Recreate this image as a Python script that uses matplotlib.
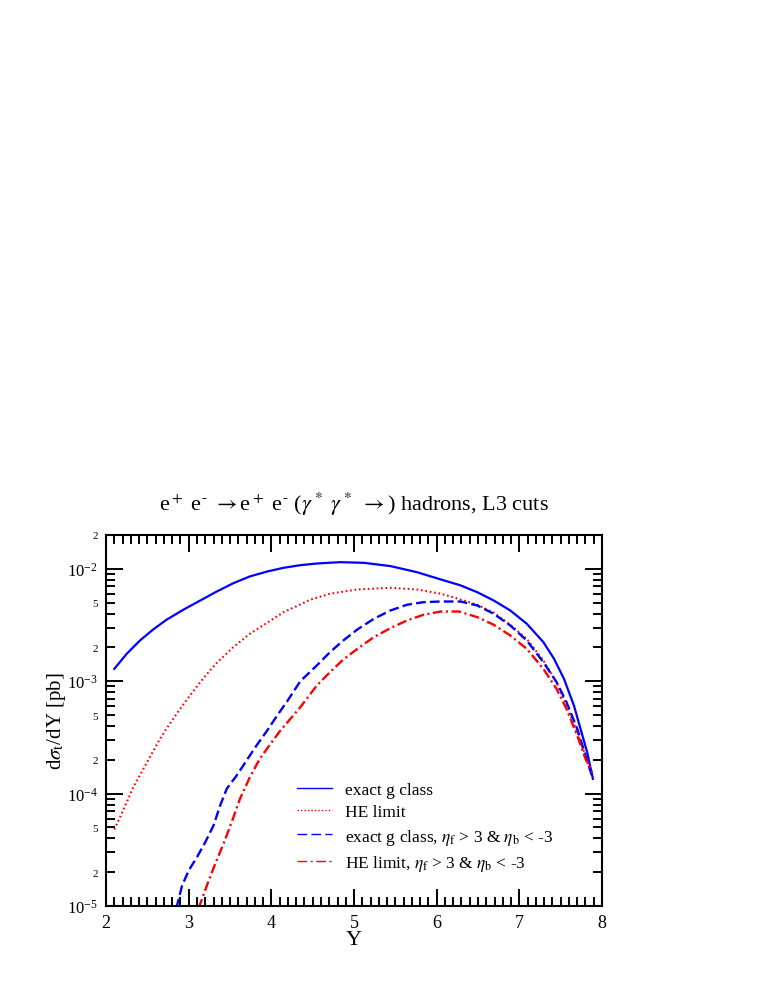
import matplotlib
matplotlib.use("Agg")
import numpy as np
import matplotlib.pyplot as plt
from matplotlib.ticker import LogLocator, FuncFormatter, MultipleLocator, LogFormatterMathtext
from matplotlib.lines import Line2D

plt.rcParams['font.family'] = ['Liberation Serif', 'DejaVu Serif']
plt.rcParams['mathtext.fontset'] = 'stix'
plt.rcParams['lines.scale_dashes'] = False

# values, given as log10(dsigma/dY [pb])
# exact g class (solid blue)
y_exact = [2.10, 2.25, 2.41, 2.57, 2.73, 2.94, 3.14, 3.34, 3.54, 3.74, 3.95, 4.15, 4.35,
           4.55, 4.83, 5.12, 5.44, 5.76, 6.05, 6.29, 6.49, 6.69, 6.89, 7.09, 7.29, 7.42,
           7.54, 7.66, 7.74, 7.82, 7.89]
lg_exact = [-2.890, -2.756, -2.638, -2.540, -2.454, -2.362, -2.282, -2.202, -2.128, -2.068,
            -2.024, -1.991, -1.968, -1.953, -1.941, -1.947, -1.976, -2.030, -2.095, -2.148,
            -2.208, -2.282, -2.371, -2.489, -2.652, -2.801, -2.979, -3.216, -3.423, -3.631,
            -3.868]

# HE limit (dotted red)
y_he = [2.10, 2.17, 2.25, 2.33, 2.43, 2.53, 2.63, 2.73, 2.84, 2.94, 3.04, 3.14, 3.24, 3.34,
        3.54, 3.74, 3.95, 4.15, 4.35, 4.47, 4.71, 5.04, 5.44, 5.76, 6.05, 6.29, 6.49, 6.69,
        6.89, 7.09, 7.29, 7.45, 7.57, 7.70, 7.80, 7.87]
lg_he = [-4.319, -4.209, -4.076, -3.942, -3.809, -3.676, -3.542, -3.423, -3.305, -3.201,
         -3.103, -3.008, -2.919, -2.836, -2.697, -2.578, -2.480, -2.385, -2.318, -2.275,
         -2.222, -2.184, -2.169, -2.184, -2.222, -2.273, -2.320, -2.391, -2.498, -2.623,
         -2.816, -3.008, -3.216, -3.453, -3.661, -3.809]

# exact g class, eta_f > 3 & eta_b < -3 (dashed blue)
y_exact_cut = [2.85, 2.92, 3.00, 3.10, 3.20, 3.30, 3.38, 3.46, 3.58, 3.70, 3.82, 3.95, 4.07,
               4.19, 4.35, 4.55, 4.71, 4.87, 5.04, 5.24, 5.44, 5.64, 5.84, 6.05, 6.29, 6.49,
               6.69, 6.89, 7.09, 7.29, 7.45, 7.57, 7.70, 7.80, 7.89]
lg_exact_cut = [-5.02, -4.817, -4.684, -4.565, -4.432, -4.284, -4.106, -3.957, -3.839, -3.705,
                -3.572, -3.438, -3.305, -3.180, -3.000, -2.860, -2.741, -2.638, -2.540, -2.445,
                -2.371, -2.320, -2.297, -2.291, -2.291, -2.326, -2.400, -2.504, -2.638, -2.830,
                -3.008, -3.186, -3.423, -3.661, -3.868]

# HE limit, eta_f > 3 & eta_b < -3 (dash-dot red)
y_he_cut = [3.12, 3.22, 3.32, 3.42, 3.52, 3.62, 3.74, 3.86, 3.99, 4.11, 4.23, 4.35, 4.55,
            4.71, 4.87, 5.04, 5.24, 5.44, 5.64, 5.84, 6.05, 6.27, 6.49, 6.69, 6.89, 7.09,
            7.29, 7.45, 7.57, 7.70, 7.80, 7.88]
lg_he_cut = [-5.02, -4.817, -4.625, -4.447, -4.254, -4.046, -3.853, -3.690, -3.557, -3.438,
             -3.335, -3.231, -3.038, -2.919, -2.807, -2.712, -2.608, -2.528, -2.460, -2.409,
             -2.380, -2.380, -2.430, -2.498, -2.593, -2.712, -2.890, -3.068, -3.246, -3.483,
             -3.690, -3.809]

labels = ['exact g class',
          'HE limit',
          r'exact g class, $\eta_{\rm f}$ > 3 & $\eta_{\rm b}$ < -3',
          r'HE limit, $\eta_{\rm f}$ > 3 & $\eta_{\rm b}$ < -3']

fig = plt.figure(figsize=(7.63, 9.87), dpi=100)
ax = fig.add_axes([0.139, 0.081, 0.650, 0.376])

ax.plot(y_exact, np.power(10.0, lg_exact), color='blue', lw=1.6)
ax.plot(y_he, np.power(10.0, lg_he), color='red', lw=1.5, dashes=(1.2, 2.0))
ax.plot(y_exact_cut, np.power(10.0, lg_exact_cut), color='blue', lw=1.7, dashes=(7, 3))
ax.plot(y_he_cut, np.power(10.0, lg_he_cut), color='red', lw=1.7, dashes=(7, 2.5, 1.5, 2.5))

ax.set_yscale('log')
ax.set_xlim(2, 8)
ax.set_ylim(1e-5, 2e-2)

ax.xaxis.set_major_locator(MultipleLocator(1))
ax.xaxis.set_minor_locator(MultipleLocator(0.1))
ax.yaxis.set_major_locator(LogLocator(base=10, numticks=10))
ax.yaxis.set_major_formatter(LogFormatterMathtext())
ax.yaxis.set_minor_locator(LogLocator(base=10, subs=range(2, 10), numticks=20))


def minor_fmt(v, pos):
    m = round(v / 10 ** int(f"{v:e}".split('e')[1]))
    return str(m) if m in (2, 5) else ''


ax.yaxis.set_minor_formatter(FuncFormatter(minor_fmt))

ax.tick_params(which='both', direction='in', top=True, right=True, width=1.4)
ax.tick_params(which='major', length=12.5, labelsize=13, pad=6)
ax.tick_params(which='minor', length=6.5)
ax.tick_params(axis='y', which='major', labelsize=12, pad=6)
ax.tick_params(axis='y', which='minor', labelsize=8, pad=6)
for s in ax.spines.values():
    s.set_linewidth(1.5)

ax.set_xlabel('Y', fontsize=16, labelpad=-1)
ax.set_ylabel(r'd$\sigma_{\rm t}$/dY [pb]', fontsize=15, labelpad=-1)
ax.set_title(r'e$^+$ e$^{\text{-}}$ $\rightarrow$e$^+$ e$^{\text{-}}$ ($\gamma^*$ $\gamma^*$ $\rightarrow$) hadrons, L3 cuts',
             fontsize=16, pad=18)

handles = [Line2D([], [], color='blue', lw=1.0),
           Line2D([], [], color='red', lw=1.0, dashes=(1, 1.5)),
           Line2D([], [], color='blue', lw=1.0, dashes=(7, 3)),
           Line2D([], [], color='red', lw=1.0, dashes=(7, 2.5, 1.5, 2.5))]
ax.legend(handles, labels, loc='upper left', bbox_to_anchor=(0.385, 0.334),
          frameon=False, fontsize=12.5, handlelength=2.0, handletextpad=0.75,
          labelspacing=0.35, borderpad=0, borderaxespad=0)

fig.savefig('out.png', dpi=100)
